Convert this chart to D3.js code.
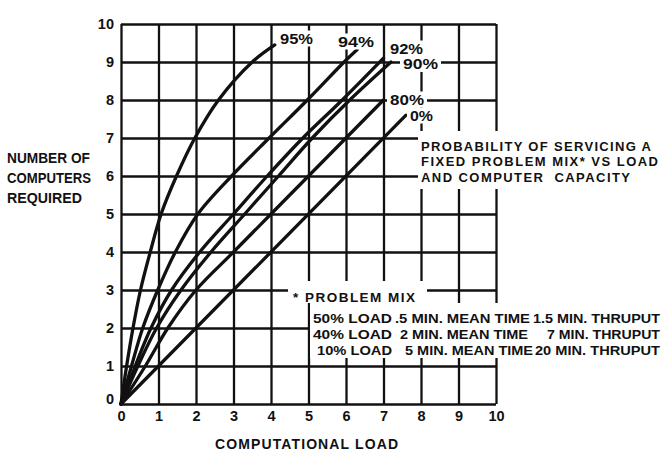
<!DOCTYPE html>
<html>
<head>
<meta charset="utf-8">
<script src="https://cdn.jsdelivr.net/npm/d3@7"></script>
<style>
  html, body { margin: 0; padding: 0; background: #fff; }
  svg { display: block; }
  text { font-family: "Liberation Sans", Arial, sans-serif; font-weight: bold; fill: #111; }
</style>
</head>
<body>
<svg id="chart" width="668" height="451"></svg>
<script>
// ---- data ----
const loadTicks = [0, 1, 2, 3, 4, 5, 6, 7, 8, 9, 10];
const computerTicks = [0, 1, 2, 3, 4, 5, 6, 7, 8, 9, 10];
const curveNames = ["95%", "94%", "92%", "90%", "80%", "0%"];

const load95 = [0, 0.15, 0.32, 0.52, 0.78, 1.07, 1.48, 1.97, 2.6, 3.5, 4.1];
const comp95 = [0, 1, 2, 3, 4, 5, 6, 7, 8, 9, 9.45];
const load94 = [0, 0.28, 0.58, 0.98, 1.45, 2.05, 2.95, 3.95, 4.97, 5.95, 6.3];
const comp94 = [0, 1, 2, 3, 4, 5, 6, 7, 8, 9, 9.33];
const load92 = [0, 0.38, 0.8, 1.35, 2.1, 3.0, 3.9, 4.85, 5.9, 7.0];
const comp92 = [0, 1, 2, 3, 4, 5, 6, 7, 8, 9.1];
const load90 = [0, 0.45, 0.95, 1.6, 2.4, 3.3, 4.2, 5.1, 6.1, 7.2];
const comp90 = [0, 1, 2, 3, 4, 5, 6, 7, 8, 9];
const load80 = [0, 0.65, 1.25, 2, 3, 4, 5, 6, 7];
const comp80 = [0, 1, 2, 3, 4, 5, 6, 7, 8];
const load0 = [0, 7.6];
const comp0 = [0, 7.6];

const xTitle = "COMPUTATIONAL LOAD";
const yTitle = ["NUMBER OF", "COMPUTERS", "REQUIRED"];
const noteTitle = ["PROBABILITY OF SERVICING A", "FIXED PROBLEM MIX* VS LOAD", "AND COMPUTER  CAPACITY"];
const mixTitle = "* PROBLEM MIX";
const mixRows = [
  ["50% LOAD", ".5 MIN. MEAN TIME", "1.5 MIN. THRUPUT"],
  ["40% LOAD", "2 MIN. MEAN TIME", "7 MIN. THRUPUT"],
  ["10% LOAD", "5 MIN. MEAN TIME", "20 MIN. THRUPUT"]
];

// ---- layout ----
const svg = d3.select("#chart");
const x = d3.scaleLinear().domain([0, 10]).range([121, 496]);
const y = d3.scaleLinear().domain([0, 10]).range([404, 24]);

// grid via axes
const gY = svg.append("g").attr("transform", `translate(${x(0)},0)`)
  .call(d3.axisLeft(y).tickValues(computerTicks).tickSize(-(x(10) - x(0))).tickPadding(6).tickFormat(d3.format("d")));
const gX = svg.append("g").attr("transform", `translate(0,${y(0)})`)
  .call(d3.axisBottom(x).tickValues(loadTicks).tickSize(-(y(0) - y(10))).tickPadding(7).tickFormat(d3.format("d")));
[gX, gY].forEach(g => {
  g.select(".domain").remove();
  g.selectAll(".tick line").attr("stroke", "#111").attr("stroke-width", 2.3);
  g.selectAll(".tick text").attr("font-size", 14.5).attr("fill", "#111")
    .style("font-family", '"Liberation Sans", Arial, sans-serif').style("font-weight", "bold");
});
gY.selectAll(".tick text").attr("dx", -1);
gY.selectAll(".tick").filter(d => d === 0).select("text").attr("dy", "-0.05em");
gX.selectAll(".tick text").attr("dy", "0.7em");

// curves
const series = [
  [load95, comp95], [load94, comp94], [load92, comp92],
  [load90, comp90], [load80, comp80], [load0, comp0]
];
const line = d3.line().x(d => x(d[0])).y(d => y(d[1])).curve(d3.curveCatmullRom.alpha(0.5));
series.forEach(([ls, cs]) => {
  svg.append("path")
    .datum(ls.map((l, i) => [l, cs[i]]))
    .attr("d", line)
    .attr("fill", "none")
    .attr("stroke", "#111")
    .attr("stroke-width", 3.3)
    .attr("stroke-linejoin", "round")
    .attr("stroke-linecap", "round");
});

// white knock-out boxes
const boxes = [
  [418, 131, 668, 189],   // note title
  [288, 281, 427, 303],   // problem mix heading
  [310, 303, 668, 358]    // problem mix rows
];
boxes.forEach(b => svg.append("rect").attr("x", b[0]).attr("y", b[1])
  .attr("width", b[2] - b[0]).attr("height", b[3] - b[1]).attr("fill", "#fff"));

// curve labels
const labelPos = [[280, 43.5, 33], [338, 46.5, 36], [390, 53.5, 33], [403, 69, 35], [390, 104.5, 34], [410, 120.5, 23]];
curveNames.forEach((name, i) => {
  const [lx, ly, lw] = labelPos[i];
  svg.append("rect").attr("x", lx - 3).attr("y", ly - 13).attr("width", lw + 6).attr("height", 16).attr("fill", "#fff");
  svg.append("text").attr("x", lx).attr("y", ly).attr("font-size", 14.5)
    .attr("textLength", lw).attr("lengthAdjust", "spacingAndGlyphs").text(name);
});

// axis titles
svg.append("text").attr("x", 215).attr("y", 448.5).attr("font-size", 14)
  .attr("textLength", 183).attr("lengthAdjust", "spacing").text(xTitle);
const yTitleW = [83, 84, 75];
const yTitleY = [163, 183, 203];
yTitle.forEach((t, i) => svg.append("text").attr("x", 7).attr("y", yTitleY[i]).attr("font-size", 14)
  .attr("textLength", yTitleW[i]).attr("lengthAdjust", "spacingAndGlyphs").text(t));

// note title
const noteW = [230, 237, 209];
const noteY = [151, 166, 181.5];
noteTitle.forEach((t, i) => svg.append("text").attr("x", 421).attr("y", noteY[i]).attr("font-size", 13)
  .attr("textLength", noteW[i]).attr("lengthAdjust", "spacing").style("white-space", "pre").text(t));

// problem mix
svg.append("text").attr("x", 293).attr("y", 302).attr("font-size", 13.5)
  .attr("textLength", 122).attr("lengthAdjust", "spacing").text(mixTitle);
const mixX = [[313, 392, 395, 530, 533, 660], [313, 392, 400, 528, 547, 660], [317, 392, 405, 533, 535, 660]];
const mixY = [323, 338.5, 354.5];
mixRows.forEach((row, r) => {
  row.forEach((t, c) => {
    const x0 = mixX[r][c * 2], x1 = mixX[r][c * 2 + 1];
    svg.append("text").attr("x", x0).attr("y", mixY[r]).attr("font-size", 13.5)
      .attr("textLength", x1 - x0).attr("lengthAdjust", "spacingAndGlyphs").text(t);
  });
});
</script>
</body>
</html>
